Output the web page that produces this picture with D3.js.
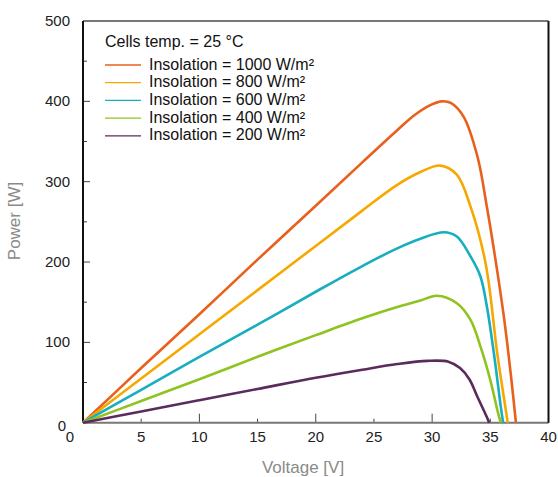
<!DOCTYPE html>
<html>
<head>
<meta charset="utf-8">
<script src="https://cdn.jsdelivr.net/npm/d3@7.9.0/dist/d3.min.js"></script>
<style>
  body { margin: 0; background: #fff; }
  svg text { font-family: "Liberation Sans Narrow", "Liberation Sans", sans-serif; }
</style>
</head>
<body>
<svg id="chart" width="558" height="477"></svg>
<script>
// insolation levels, top to bottom in legend
const labels = ['Insolation = 1000 W/m²', 'Insolation = 800 W/m²', 'Insolation = 600 W/m²',
  'Insolation = 400 W/m²', 'Insolation = 200 W/m²'];
const colors = ['#e8601c', '#f7a800', '#17aebf', '#8fc31f', '#5b2b5c'];

// voltage [V] / power [W]
const v1000 = [0, 5, 10, 15, 20, 24, 27, 28.5, 29.8, 30.8, 31.6, 32.7, 33.9, 34.7, 35.4, 36.2, 36.8, 37.2];
const p1000 = [0, 68, 135, 203, 270, 324, 364, 383, 395, 400, 398, 381, 331, 269, 207, 128, 55, 0];
const v800 = [0, 5, 10, 15, 20, 24, 27, 29, 30.7, 32.1, 33.3, 34.6, 35.6, 36.2, 36.5];
const p800 = [0, 55, 110, 165, 220, 264, 296, 312, 320, 309, 269, 198, 86, 28, 0];
const v600 = [0, 5, 10, 15, 20, 24, 27, 29, 31.0, 32.1, 33.3, 34.15, 34.7, 35.3, 35.9, 36.1];
const p600 = [0, 41, 82, 122, 163, 195, 217, 229, 237, 232, 207, 182, 145, 87, 20, 0];
const v400 = [0, 5, 10, 15, 20, 24, 27, 29, 30.4, 32.1, 33.3, 34.15, 35.0, 35.7, 35.9];
const p400 = [0, 27, 54, 82, 109, 130, 144, 152, 158, 149, 128, 95, 53, 10, 0];
const v200 = [0, 5, 10, 15, 20, 24, 27, 29.6, 31.4, 32.4, 33.2, 33.9, 34.7, 34.9];
const p200 = [0, 14, 28, 42, 56, 66, 73, 77, 76, 68, 54, 32, 7, 0];

const xTicks = [0, 5, 10, 15, 20, 25, 30, 35, 40];
const yTicks = [0, 100, 200, 300, 400, 500];

const series = [[v1000, p1000], [v800, p800], [v600, p600], [v400, p400], [v200, p200]];

const svg = d3.select('#chart');
const x = d3.scaleLinear().domain([0, 40]).range([83, 548.5]);
const y = d3.scaleLinear().domain([0, 500]).range([422.7, 21]);

// inside ticks, long every 10 V / 100 W
const gx = svg.append('g');
d3.range(0, 41, 5).forEach(d => {
  gx.append('line').attr('x1', x(d)).attr('x2', x(d))
    .attr('y1', y(0)).attr('y2', y(0) - (d % 10 === 0 ? 9 : 4))
    .attr('stroke', '#444').attr('stroke-width', 1);
});
d3.range(0, 501, 50).forEach(d => {
  gx.append('line').attr('x1', x(0)).attr('x2', x(0) + (d % 100 === 0 ? 7 : 4))
    .attr('y1', y(d)).attr('y2', y(d))
    .attr('stroke', '#444').attr('stroke-width', 1);
});

// frame
svg.append('line').attr('x1', x(0)).attr('x2', x(40)).attr('y1', y(500)).attr('y2', y(500))
  .attr('stroke', '#777').attr('stroke-width', 2);
svg.append('line').attr('x1', x(0)).attr('x2', x(40)).attr('y1', y(0)).attr('y2', y(0))
  .attr('stroke', '#777').attr('stroke-width', 2);
svg.append('line').attr('x1', x(0)).attr('x2', x(0)).attr('y1', y(500)).attr('y2', y(0))
  .attr('stroke', '#111').attr('stroke-width', 2);
svg.append('line').attr('x1', x(40)).attr('x2', x(40)).attr('y1', y(500)).attr('y2', y(0))
  .attr('stroke', '#111').attr('stroke-width', 2);

// tick labels
svg.append('g').selectAll('text').data(xTicks).join('text')
  .attr('x', d => d === 0 ? x(d) - 13 : x(d)).attr('y', 442)
  .attr('text-anchor', 'middle').attr('font-size', 15).attr('fill', '#222')
  .text(d => d);
svg.append('g').selectAll('text').data(yTicks).join('text')
  .attr('x', 70).attr('y', d => d === 0 ? y(d) + 8 : y(d) + 5)
  .attr('text-anchor', 'end').attr('font-size', 15).attr('fill', '#222')
  .attr('dx', d => d === 0 ? -4 : 0)
  .text(d => d);

// axis titles
svg.append('text').attr('x', 303).attr('y', 473).attr('text-anchor', 'middle')
  .attr('font-size', 17).attr('fill', '#8a8a8a').text('Voltage [V]');
svg.append('text').attr('transform', 'translate(20,221) rotate(-90)').attr('text-anchor', 'middle')
  .attr('font-size', 17).attr('fill', '#8a8a8a').text('Power [W]');

// curves
const line = d3.line().x(d => x(d[0])).y(d => y(d[1])).curve(d3.curveCatmullRom.alpha(0.5));
series.forEach(([vs, ps], i) => {
  svg.append('path').datum(vs.map((v, j) => [v, ps[j]]))
    .attr('d', line).attr('fill', 'none')
    .attr('stroke', colors[i]).attr('stroke-width', 2.6)
    .attr('stroke-linejoin', 'round');
});

// legend
const lg = svg.append('g');
lg.append('text').attr('x', 105).attr('y', 47).attr('font-size', 16).attr('fill', '#111')
  .text('Cells temp. = 25 °C');
labels.forEach((t, i) => {
  const yy = 65 + i * 17.7;
  lg.append('line').attr('x1', 105).attr('x2', 141).attr('y1', yy).attr('y2', yy)
    .attr('stroke', colors[i]).attr('stroke-width', 1.3);
  lg.append('text').attr('x', 149).attr('y', yy + 4.5).attr('font-size', 16).attr('fill', '#111')
    .text(t);
});
</script>
</body>
</html>
